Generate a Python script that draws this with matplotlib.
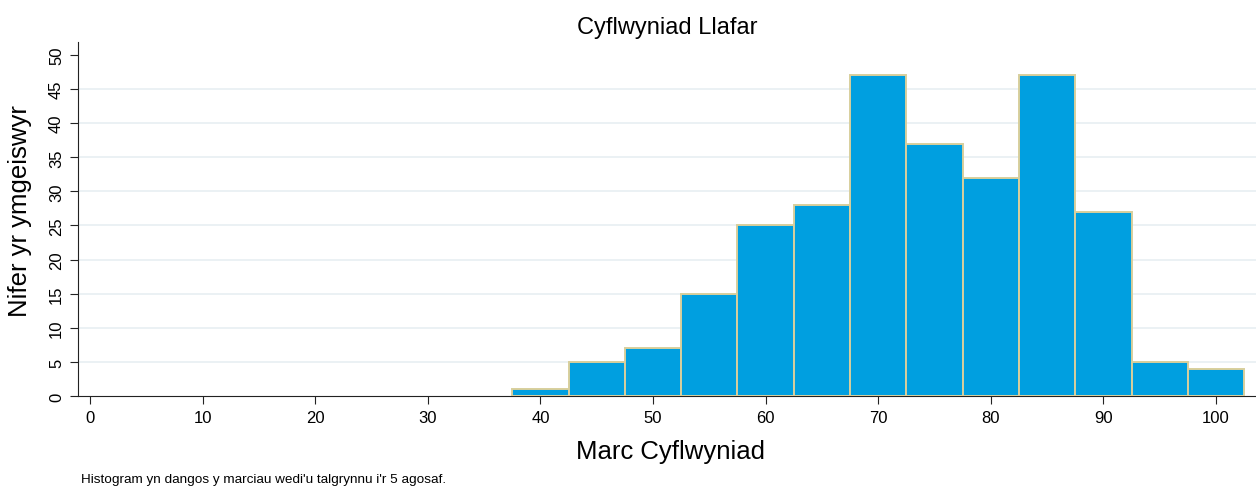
import matplotlib
matplotlib.use("Agg")
import matplotlib.pyplot as plt

plt.rcParams['font.family'] = ['Liberation Sans', 'DejaVu Sans']

marks = [40, 45, 50, 55, 60, 65, 70, 75, 80, 85, 90, 95, 100]
counts = [1, 5, 7, 15, 25, 28, 47, 37, 32, 47, 27, 5, 4]
xticks = list(range(0, 101, 10))
yticks = list(range(0, 51, 5))

title = "Cyflwyniad Llafar"
xlabel = "Marc Cyflwyniad"
ylabel = "Nifer yr ymgeiswyr"
note = "Histogram yn dangos y marciau wedi'u talgrynnu i'r 5 agosaf."

fig = plt.figure(figsize=(12.56, 4.89), dpi=100)
ax = fig.add_axes([78/1256, 92/489, 1 - 78/1256, (397-43)/489])

ax.bar(marks, counts, width=5, color='#009FE0', edgecolor='#D8CF9C', linewidth=1.4, zorder=3)

ax.set_xlim(-1.07, 103.55)
ax.set_ylim(0, 51.9)
ax.set_xticks(xticks)
ax.set_yticks(yticks)
ax.set_yticklabels([str(v) for v in yticks], rotation=90, va='center')
ax.tick_params(axis='both', labelsize=12, length=6, width=0.8, color='#222222', pad=4)
for v in yticks[1:-1]:
    ax.axhline(v, color='#E8EFF2', linewidth=1.2, zorder=0)
for s in ['top', 'right']:
    ax.spines[s].set_visible(False)
for s in ['left', 'bottom']:
    ax.spines[s].set_color('#222222')
    ax.spines[s].set_linewidth(0.8)

fig.text(0.5 * (78 + 1256) / 1256, 1 - 28/489, title, ha='center', va='center', fontsize=17)
fig.text(20/1256, 1 - 211/489, ylabel, ha='center', va='center', rotation=90, fontsize=18.5)
fig.text(0.5 * (78 + 1256) / 1256 + 4/1256, 1 - 452/489, xlabel, ha='center', va='center', fontsize=18.5)
fig.text(81/1256, 1 - 480/489, note, ha='left', va='center', fontsize=9.7)

fig.savefig('out.png', dpi=100)
